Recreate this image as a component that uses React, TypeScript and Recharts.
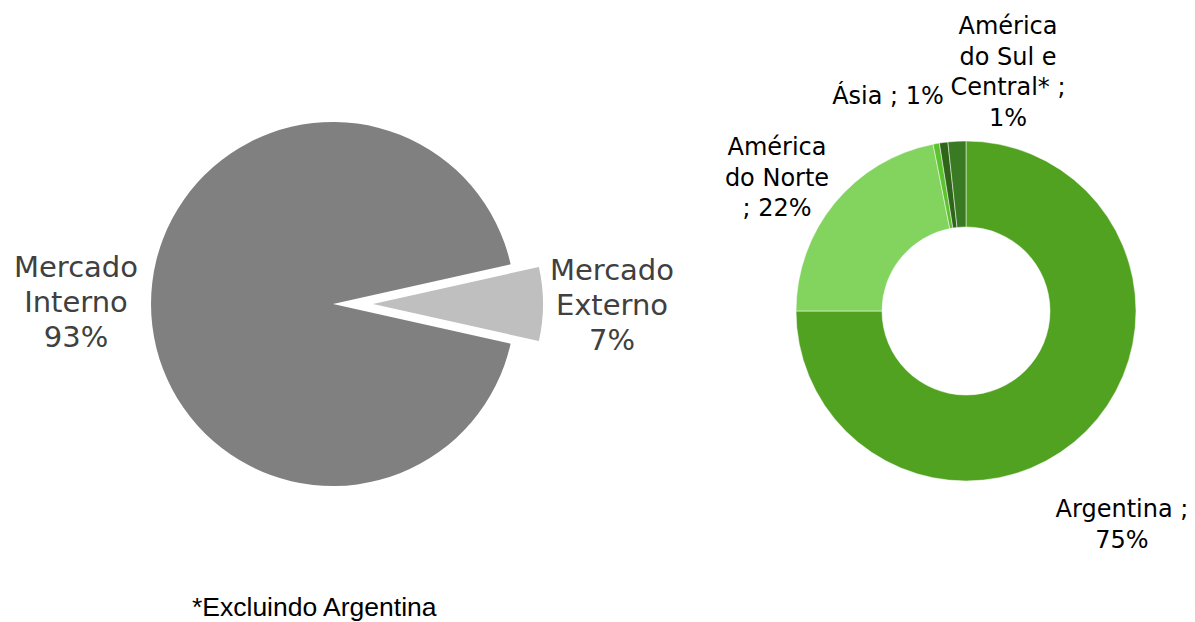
import { PieChart, Pie, Cell } from 'recharts';

// Left pie: domestic vs export market
const marketNames = ['Mercado Interno', 'Mercado Externo'];
const marketValues = [93, 7];
const marketLabels = ['93%', '7%'];

// Right donut: export destinations (clockwise from 12 o'clock)
const destNames = ['Argentina', 'América do Norte', 'Outros', 'Ásia', 'América do Sul e Central*'];
const destValues = [75.0, 21.9, 0.6, 0.8, 1.7];
const destLabels = ['75%', '22%', '', '1%', '1%'];

const MARKET_COLORS = ['#808080', '#BFBFBF'];
const DEST_COLORS = ['#52A222', '#83D35F', '#5DC22F', '#2E6518', '#3A7A23'];

const marketData = marketNames.map((name, i) => ({ name, value: marketValues[i], pct: marketLabels[i] }));
const destData = destNames.map((name, i) => ({ name, value: destValues[i], pct: destLabels[i] }));

// label text lines + anchor offset from the pie centre
const MARKET_LABEL_LAYOUT: Record<string, { dx: number; dy: number; lines: string[] }> = {
  'Mercado Interno': { dx: -257, dy: -27, lines: ['Mercado', 'Interno', '93%'] },
  'Mercado Externo': { dx: 239, dy: -24, lines: ['Mercado', 'Externo', '7%'] },
};

const DEST_LABEL_LAYOUT: Record<string, { dx: number; dy: number; lines: string[] }> = {
  'Argentina': { dx: 156, dy: 206, lines: ['Argentina ;', '75%'] },
  'América do Norte': { dx: -189, dy: -156, lines: ['América', 'do Norte', '; 22%'] },
  'Ásia': { dx: -78, dy: -207, lines: ['Ásia ; 1%'] },
  'América do Sul e Central*': { dx: 42, dy: -277, lines: ['América', 'do Sul e', 'Central* ;', '1%'] },
};

const CX_LEFT = 333;
const CY_LEFT = 304;
const EXPLODE = 40;

function makeLabel(
  layout: Record<string, { dx: number; dy: number; lines: string[] }>,
  only: string[],
  fontSize: number,
  lineHeight: number,
  color: string,
) {
  return (props: any) => {
    const { cx, cy, name } = props;
    const l = layout[name];
    if (!l || !only.includes(name)) return null;
    const x = cx + l.dx;
    return (
      <text
        x={x}
        y={cy + l.dy}
        textAnchor="middle"
        fill={color}
        fontSize={fontSize}
        fontFamily="DejaVu Sans, Verdana, sans-serif"
      >
        {l.lines.map((line, i) => (
          <tspan key={i} x={x} dy={i === 0 ? 0 : lineHeight}>
            {line}
          </tspan>
        ))}
      </text>
    );
  };
}

export default function App() {
  return (
    <div style={{ position: 'absolute', left: 0, top: 0, width: 1195, height: 622, background: '#fff' }}>
      <PieChart width={1195} height={622} margin={{ top: 0, right: 0, bottom: 0, left: 0 }}>
        {/* main slice */}
        <Pie
          data={marketData}
          dataKey="value"
          nameKey="name"
          cx={CX_LEFT}
          cy={CY_LEFT}
          outerRadius={182}
          startAngle={12.6}
          endAngle={372.6}
          stroke="none"
          labelLine={false}
          label={makeLabel(MARKET_LABEL_LAYOUT, ['Mercado Interno'], 29, 35, '#404040')}
          isAnimationActive={false}
        >
          {marketData.map((d, i) => (
            <Cell key={d.name} fill={i === 0 ? MARKET_COLORS[0] : 'transparent'} />
          ))}
        </Pie>
        {/* exploded export slice */}
        <Pie
          data={marketData}
          dataKey="value"
          nameKey="name"
          cx={CX_LEFT + EXPLODE}
          cy={CY_LEFT}
          outerRadius={170}
          startAngle={12.6}
          endAngle={372.6}
          stroke="none"
          labelLine={false}
          label={makeLabel(MARKET_LABEL_LAYOUT, ['Mercado Externo'], 29, 35, '#404040')}
          isAnimationActive={false}
        >
          {marketData.map((d, i) => (
            <Cell key={d.name} fill={i === 1 ? MARKET_COLORS[1] : 'transparent'} />
          ))}
        </Pie>
        {/* destinations donut */}
        <Pie
          data={destData}
          dataKey="value"
          nameKey="name"
          cx={966}
          cy={311}
          innerRadius={84}
          outerRadius={170}
          startAngle={90}
          endAngle={-270}
          stroke="#ffffff"
          strokeWidth={0.5}
          labelLine={false}
          label={makeLabel(DEST_LABEL_LAYOUT, ['Argentina', 'América do Norte', 'Ásia', 'América do Sul e Central*'], 24, 30.5, '#000000')}
          isAnimationActive={false}
        >
          {destData.map((d, i) => (
            <Cell key={d.name} fill={DEST_COLORS[i]} />
          ))}
        </Pie>
      </PieChart>
      <div
        style={{
          position: 'absolute',
          left: 192,
          top: 592,
          fontFamily: 'Liberation Sans, Arial, sans-serif',
          fontSize: 26.5,
          lineHeight: 1.15,
          color: '#000',
          whiteSpace: 'nowrap',
        }}
      >
        *Excluindo Argentina
      </div>
    </div>
  );
}
